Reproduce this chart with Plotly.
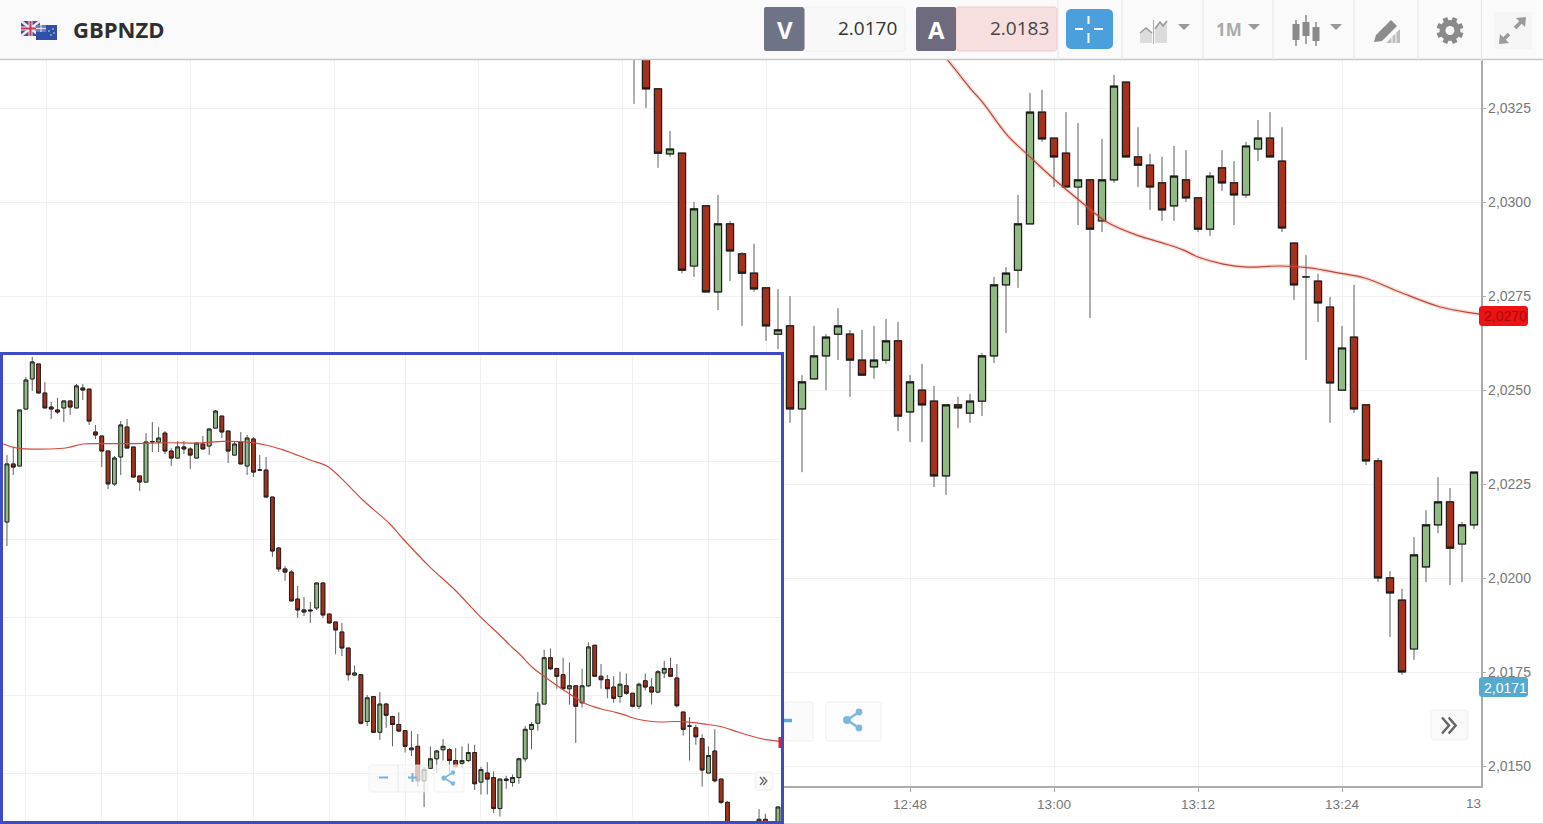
import math
import plotly.graph_objects as go

W, H = 1543, 824

minutes = list(range(693, 816))

opens = [
    2.04109, 2.04481, 2.04468, 2.04833, 2.05026, 2.05122, 2.04936, 2.04846, 2.04827, 2.0484,
    2.04885, 2.0484, 2.04968, 2.04961, 2.04686, 2.0466, 2.04564, 2.04353, 2.04526, 2.04718,
    2.0459, 2.04404, 2.04365, 2.04622, 2.04622, 2.04679, 2.04564, 2.04519, 2.0459, 2.04577,
    2.04519, 2.04609, 2.04596, 2.04711, 2.04788, 2.04692, 2.04538, 2.04622, 2.04468, 2.04641,
    2.04442, 2.04442, 2.04269, 2.03942, 2.03808, 2.03788, 2.03615, 2.03545, 2.03545, 2.03558,
    2.03718, 2.03519, 2.03468, 2.03404,
    2.03301, 2.03128, 2.0313, 2.0283, 2.0299, 2.02761, 2.02942, 2.02862, 2.02811, 2.02772,
    2.02649, 2.02671, 2.0245, 2.0253, 2.02591, 2.02649, 2.02649, 2.0258, 2.02562, 2.0258,
    2.02631, 2.02442, 2.025, 2.02471, 2.02272, 2.02461, 2.02439, 2.02471, 2.02591, 2.0278,
    2.02819, 2.02942, 2.03239, 2.0317, 2.0313, 2.0304, 2.03059, 2.0295, 2.03059, 2.03319,
    2.0312, 2.03098, 2.03051, 2.0299, 2.03059, 2.03011, 2.02928, 2.03091, 2.03051, 2.03019,
    2.03141, 2.0317, 2.03109, 2.02891, 2.02801, 2.0279, 2.02721, 2.025, 2.02641, 2.02461,
    2.02312, 2.02001, 2.01942, 2.01812, 2.0203, 2.02142, 2.02203, 2.02091, 2.02142,
]
highs = [
    2.04538, 2.0459, 2.04827, 2.05038, 2.05167, 2.05122, 2.05006, 2.04878, 2.04904, 2.04885,
    2.04885, 2.04994, 2.04994, 2.04961, 2.04731, 2.0466, 2.04564, 2.04532, 2.04756, 2.04769,
    2.0459, 2.04404, 2.04679, 2.0475, 2.04718, 2.04692, 2.04583, 2.04628, 2.04628, 2.0459,
    2.04615, 2.0466, 2.04711, 2.04827, 2.04788, 2.04692, 2.04622, 2.04686, 2.04667, 2.04654,
    2.04538, 2.04526, 2.04269, 2.03948, 2.03827, 2.03801, 2.03699, 2.03628, 2.03596, 2.03718,
    2.03718, 2.03519, 2.03468, 2.03462,
    2.03301, 2.03189, 2.0313, 2.03, 2.0299, 2.03019, 2.0295, 2.02867, 2.02889, 2.02772,
    2.02769, 2.0275, 2.0254, 2.02671, 2.02649, 2.02718, 2.0266, 2.0266, 2.02671, 2.02689,
    2.02681, 2.0254, 2.0257, 2.02511, 2.02461, 2.02482, 2.0249, 2.02599, 2.02801, 2.02827,
    2.03019, 2.0329, 2.03298, 2.0317, 2.03239, 2.0321, 2.03059, 2.03168, 2.03338, 2.03319,
    2.03199, 2.03128, 2.0312, 2.03149, 2.03138, 2.03011, 2.0308, 2.03138, 2.03109, 2.0316,
    2.03218, 2.03239, 2.03199, 2.02891, 2.02859, 2.02809, 2.02748, 2.02671, 2.0278, 2.02461,
    2.0232, 2.02019, 2.01972, 2.0211, 2.02181, 2.02269, 2.0224, 2.0215, 2.02282,
]
lows = [
    2.03955, 2.0441, 2.04468, 2.04833, 2.04949, 2.04936, 2.0484, 2.04769, 2.04801, 2.0475,
    2.04795, 2.0484, 2.04891, 2.04731, 2.04641, 2.04461, 2.0432, 2.0434, 2.0441, 2.04583,
    2.04397, 2.04308, 2.04365, 2.04558, 2.04558, 2.04545, 2.04468, 2.04519, 2.04545, 2.04449,
    2.04519, 2.04577, 2.04538, 2.04711, 2.04647, 2.04487, 2.04538, 2.04481, 2.0441, 2.04397,
    2.04436, 2.04269, 2.03885, 2.03788, 2.03731, 2.03603, 2.03494, 2.03506, 2.03462, 2.03545,
    2.03494, 2.03455, 2.03261, 2.0325,
    2.03091, 2.0312, 2.02811, 2.02801, 2.02761, 2.02713, 2.0279, 2.02671, 2.02761, 2.02631,
    2.02609, 2.02413, 2.02282, 2.0253, 2.025, 2.0258, 2.02482, 2.0254, 2.0253, 2.0257,
    2.02391, 2.02362, 2.02362, 2.02243, 2.02221, 2.02399, 2.02413, 2.02431, 2.02572, 2.02652,
    2.02772, 2.02942, 2.0316, 2.0304, 2.0304, 2.02939, 2.02692, 2.0292, 2.03051, 2.0312,
    2.0304, 2.02979, 2.0295, 2.0295, 2.03, 2.0292, 2.0291, 2.03029, 2.02939, 2.03011,
    2.03109, 2.0312, 2.0292, 2.0274, 2.0258, 2.02681, 2.02413, 2.025, 2.02439, 2.02301,
    2.0199, 2.01844, 2.01743, 2.01783, 2.0199, 2.0212, 2.01982, 2.0199, 2.02131,
]
closes = [
    2.04481, 2.04461, 2.04827, 2.05019, 2.05135, 2.04936, 2.0484, 2.04833, 2.04814, 2.04885,
    2.04846, 2.04981, 2.04955, 2.04756, 2.04667, 2.04564, 2.04353, 2.04519, 2.04731, 2.04583,
    2.04397, 2.04365, 2.04622, 2.04625, 2.04647, 2.04564, 2.04519, 2.0459, 2.04577, 2.04538,
    2.04615, 2.04577, 2.04705, 2.0482, 2.04686, 2.04564, 2.04609, 2.04481, 2.04647, 2.04429,
    2.04442, 2.04269, 2.03923, 2.03808, 2.03788, 2.03603, 2.03545, 2.03532, 2.0354, 2.03718,
    2.03513, 2.03462, 2.03417, 2.03301,
    2.0313, 2.03141, 2.02819, 2.02982, 2.02761, 2.02942, 2.0287, 2.02811, 2.02769, 2.02671,
    2.0266, 2.0245, 2.02522, 2.02591, 2.02641, 2.02671, 2.0258, 2.0254, 2.0258, 2.02631,
    2.02431, 2.02522, 2.02461, 2.02272, 2.02461, 2.02453, 2.02471, 2.02591, 2.0278, 2.02811,
    2.02942, 2.03239, 2.03168, 2.0312, 2.0304, 2.03059, 2.02928, 2.03059, 2.03308, 2.0312,
    2.03098, 2.0304, 2.02979, 2.03069, 2.03011, 2.02928, 2.03069, 2.03051, 2.03019, 2.03149,
    2.0317, 2.0312, 2.02931, 2.0278, 2.02801, 2.02732, 2.02519, 2.02612, 2.0245, 2.02312,
    2.02001, 2.01961, 2.01751, 2.02062, 2.02142, 2.02203, 2.0208, 2.02142, 2.02282,
]

ma_minutes = [
    692.4, 694.6, 699.8, 702.5, 705.0, 707.7, 712.9, 718.3, 723.5, 727.2, 731.5, 734.6,
    736.7, 741.0, 743.6, 745.7, 749.3, 753.6, 755.7, 759.9, 763.9, 767.8, 771.33, 773.0, 774.1,
    776.1, 778.0, 779.9, 782.4, 784.4, 786.9, 789.1, 790.75, 792.0, 794.1, 796.1, 798.8,
    801.3, 803.8, 805.9, 808.8, 812.2, 815.5,
]
ma_values = [
    2.04609, 2.04583, 2.04577, 2.04585, 2.04609, 2.04611, 2.04611, 2.04617, 2.04615, 2.04626,
    2.0462, 2.04596, 2.04571, 2.04506, 2.04468, 2.04397, 2.0425, 2.04096, 2.04, 2.03821,
    2.03673, 2.03506, 2.0337, 2.03303, 2.03263, 2.03178, 2.0312, 2.03064, 2.02997, 2.02947, 2.02912,
    2.02891, 2.02873, 2.02854, 2.02835, 2.02827, 2.0283, 2.02825, 2.02811, 2.02798, 2.02761,
    2.02721, 2.02702,
]

x_tick_minutes = [696, 708, 720, 732, 744, 756, 768, 780, 792, 804]
x_tick_labels = ["", "", "", "", "", "", "12:48", "13:00", "13:12", "13:24"]
y_tick_values = [2.0150, 2.0175, 2.0200, 2.0225, 2.0250, 2.0275, 2.0300, 2.0325]
y_tick_labels = ["2,0150", "2,0175", "2,0200", "2,0225", "2,0250", "2,0275", "2,0300", "2,0325"]
inset_y_ticks = [2.025, 2.03, 2.035, 2.04, 2.045, 2.05]

symbol = "GBPNZD"
bid_label, bid_value = "V", "2.0170"
ask_label, ask_value = "A", "2.0183"
period = "1M"
ma_last, last_price = "2,0270", "2,0171"

RED, GREEN = "#a5311a", "#8fbb82"
EDGE, WICK = "#1c1c1c", "#5f5f5f"
GRID = "#f1f1f1"

body_hi = [max(o, c) for o, c in zip(opens, closes)]
body_lo = [min(o, c) for o, c in zip(opens, closes)]


def px(x):
    return x / W


def py(y):
    return 1 - y / H


def add_candles(fig, xa, ya, edge_w):
    common = dict(x=minutes, xaxis=xa, yaxis=ya, hoverinfo="skip", showlegend=False, whiskerwidth=0)
    fig.add_trace(go.Candlestick(
        open=opens, high=highs, low=lows, close=closes,
        increasing=dict(line=dict(color=WICK, width=1), fillcolor=GREEN),
        decreasing=dict(line=dict(color=WICK, width=1), fillcolor=RED), **common))
    fig.add_trace(go.Candlestick(
        open=opens, high=body_hi, low=body_lo, close=closes,
        increasing=dict(line=dict(color=EDGE, width=edge_w), fillcolor=GREEN),
        decreasing=dict(line=dict(color=EDGE, width=edge_w), fillcolor=RED), **common))


fig = go.Figure()
add_candles(fig, "x", "y", 1.2)
fig.add_trace(go.Scatter(x=ma_minutes, y=ma_values, mode="lines", xaxis="x", yaxis="y",
                         line=dict(color="rgba(225,90,70,0.22)", width=4, shape="spline"),
                         hoverinfo="skip", showlegend=False))
fig.add_trace(go.Scatter(x=ma_minutes, y=ma_values, mode="lines", xaxis="x", yaxis="y",
                         line=dict(color="#b9483a", width=1.2, shape="spline"),
                         hoverinfo="skip", showlegend=False))
add_candles(fig, "x2", "y2", 0.9)
fig.add_trace(go.Scatter(x=ma_minutes, y=ma_values, mode="lines", xaxis="x2", yaxis="y2",
                         line=dict(color="#d8473c", width=1.2, shape="spline"),
                         hoverinfo="skip", showlegend=False))

shapes = []
annotations = []


def rect(x0, y0, x1, y1, fill, line=None, lw=1):
    shapes.append(dict(type="rect", xref="paper", yref="paper", x0=px(x0), x1=px(x1), y0=py(y0), y1=py(y1),
                       fillcolor=fill, line=dict(color=line or "rgba(0,0,0,0)", width=lw if line else 0),
                       layer="above"))


def path(points, fill=None, line=None, lw=1, close=True):
    d = "M" + " L".join(f"{px(a):.5f},{py(b):.5f}" for a, b in points) + (" Z" if close else "")
    shapes.append(dict(type="path", xref="paper", yref="paper", path=d,
                       fillcolor=fill or "rgba(0,0,0,0)",
                       line=dict(color=line or "rgba(0,0,0,0)", width=lw if line else 0), layer="above"))


def rrect(x0, y0, x1, y1, r, fill, line=None, lw=1):
    pts = []
    for cx, cy, a0 in ((x1 - r, y0 + r, -90), (x1 - r, y1 - r, 0), (x0 + r, y1 - r, 90), (x0 + r, y0 + r, 180)):
        for k in range(5):
            a = math.radians(a0 + k * 22.5)
            pts.append((cx + r * math.cos(a), cy + r * math.sin(a)))
    path(pts, fill, line, lw)


def seg(x0, y0, x1, y1, color, lw=1):
    shapes.append(dict(type="line", xref="paper", yref="paper", x0=px(x0), x1=px(x1), y0=py(y0), y1=py(y1),
                       line=dict(color=color, width=lw), layer="above"))


def circle(cx, cy, r, fill):
    shapes.append(dict(type="circle", xref="paper", yref="paper", x0=px(cx - r), x1=px(cx + r),
                       y0=py(cy - r), y1=py(cy + r), fillcolor=fill, line=dict(width=0), layer="above"))


def label(x, y, text, size, color, anchor="center", family="Open Sans", bold=False):
    t = f"<b>{text}</b>" if bold else text
    annotations.append(dict(xref="paper", yref="paper", x=px(x), y=py(y), text=t, showarrow=False,
                            xanchor=anchor, yanchor="middle", font=dict(size=size, color=color, family=family),
                            borderpad=0, borderwidth=0))


def share(cx, cy, dx, dy, r, color, lw):
    seg(cx, cy, cx + dx, cy - dy, color, lw)
    seg(cx, cy, cx + dx, cy + dy, color, lw)
    circle(cx, cy, r, color)
    circle(cx + dx, cy - dy, r * 0.85, color)
    circle(cx + dx, cy + dy, r * 0.85, color)


def chevrons(x, y, w, h, color, lw):
    for off in (0, w * 0.95):
        path([(x + off, y - h), (x + off + w, y), (x + off, y + h)], None, color, lw, close=False)


# Header
rect(0, 0, W, 59, "#fafafa")
seg(0, 59.5, W, 59.5, "#c9c9c9", 1.5)
for sx in (1058, 1122, 1203, 1273, 1354, 1418):
    seg(sx, 0, sx, 61, "#e6e6e6", 1)
seg(1481.5, 0, 1481.5, 61, "#e6e6e6", 1)

# Flags
rect(21, 21, 40, 36, "#4a4f96")
seg(21, 21, 40, 36, "#f2e6ea", 2.5)
seg(40, 21, 21, 36, "#f2e6ea", 2.5)
seg(30.5, 21, 30.5, 36, "#f2e6ea", 4)
seg(21, 28.5, 40, 28.5, "#f2e6ea", 4)
seg(30.5, 21, 30.5, 36, "#c8385a", 2)
seg(21, 28.5, 40, 28.5, "#c8385a", 2)
rect(36, 25, 57, 40, "#2f4fa8")
rect(36, 25, 46, 32, "#6c7bc0")
seg(36, 28.5, 46, 28.5, "#e8dce6", 1.2)
seg(41, 25, 41, 32, "#e8dce6", 1.2)
for sx, sy in ((49, 31), (53, 29), (51, 35), (54, 33)):
    circle(sx, sy, 0.8, "#dfe4f5")
label(73, 29, symbol, 22, "#2f2f2f", "left", bold=True)

# Bid / ask
rrect(804, 7, 905, 51, 3, "#f8f8f8", "#eeeeee")
rrect(764, 7, 804, 51, 2, "#6f7386")
seg(804, 9, 804, 49, "#6f7386", 1)
label(785, 29, bid_label, 24, "#ffffff", bold=True)
label(897, 28, bid_value, 19, "#333333", "right")
rrect(956, 7, 1057, 51, 3, "#f7dfdf", "#efcaca")
rrect(916, 7, 956, 51, 2, "#6e6b7e")
label(936, 29, ask_label, 24, "#ffffff", bold=True)
label(1049, 28, ask_value, 19, "#444444", "right")

# Crosshair button
rrect(1066, 9, 1113, 49, 5, "#4a9fdc")
for a, b, c, d in ((1088.5, 16, 1088.5, 24), (1088.5, 33, 1088.5, 43), (1075, 29, 1083, 29), (1094, 29, 1103, 29)):
    seg(a, b, c, d, "#ffffff", 2)

# Chart type icon
path([(1140, 43), (1140, 33), (1146, 28), (1152, 33), (1152, 43)], "#dcdcdc")
path([(1155, 43), (1155, 26), (1167, 22), (1167, 43)], "#dcdcdc")
path([(1140, 33), (1146, 28), (1152, 33)], None, "#999999", 1.5, close=False)
path([(1155, 29), (1160, 22), (1163, 26), (1167, 21)], None, "#999999", 1.5, close=False)
seg(1153.5, 20, 1153.5, 44, "#aaaaaa", 1)
for tx in (1184, 1254, 1336):
    path([(tx - 6, 24), (tx + 6, 24), (tx, 30)], "#999999")
label(1229, 30, period, 17, "#aaaaaa", bold=True)

# Candle icon
for cx, t0, t1, w0, w1 in ((1296, 24, 40, 20, 46), (1306, 22, 36, 15, 44), (1316, 27, 41, 22, 46)):
    seg(cx, w0, cx, w1, "#8a8a8a", 1.5)
    rect(cx - 3.5, t0, cx + 3.5, t1, "#8a8a8a")

# Drawing icon
path([(1374, 42), (1376, 35), (1391, 20), (1397, 26), (1382, 41)], "#8c8c8c")
path([(1386, 43), (1400, 29), (1400, 43)], "#bcbcbc")
seg(1392, 43, 1392, 37, "#fafafa", 1)
seg(1396, 43, 1396, 33, "#fafafa", 1)

# Gear icon
for k in range(8):
    a = math.radians(22.5 + k * 45)
    seg(1450 + 8 * math.cos(a), 30.5 + 8 * math.sin(a), 1450 + 13.5 * math.cos(a), 30.5 + 13.5 * math.sin(a),
        "#8a8a8a", 5)
circle(1450, 30.5, 10.5, "#8a8a8a")
circle(1450, 30.5, 4.5, "#fafafa")

# Expand icon
rect(1494, 12, 1532, 49, "#f5f5f5")
seg(1502, 41, 1509, 34, "#9a9a9a", 3.5)
seg(1515, 28, 1522, 21, "#9a9a9a", 3.5)
path([(1526, 17), (1525, 27), (1516, 18)], "#9a9a9a")
path([(1499, 44), (1500, 34), (1509, 43)], "#9a9a9a")

# Controls in the main chart
rrect(784, 702, 813, 741, 2, "#fbfbfb", "#eeeeee")
seg(784, 720.5, 792, 720.5, "#5ba8dc", 3.5)
rrect(826, 702, 881, 741, 2, "#fdfdfd", "#eeeeee")
share(847, 720, 12, 8, 4, "#7db8dc", 2.5)
rrect(1431, 710, 1468, 740, 3, "#fafafa", "#eeeeee")
chevrons(1442, 725.5, 7, 8, "#666666", 2.5)

# Price labels
rrect(1479, 306, 1528, 326, 3, "#ee1212")
label(1505, 316, ma_last, 14, "#a30f0f", family="Liberation Sans")
rrect(1479, 677, 1528, 697, 3, "#56a9cf")
label(1505, 688, last_price, 14, "#ffffff", family="Liberation Sans")
label(1481, 803, "13", 13.5, "#777777", "right", family="Liberation Sans")
seg(0, 823.5, W, 823.5, "#d8d8d8", 1)

# Controls in the inset
rrect(369, 765, 428, 792, 2, "rgba(250,250,250,0.72)", "rgba(235,235,235,0.7)")
seg(398, 765, 398, 792, "#e6e6e6", 1)
seg(379, 777.5, 388, 777.5, "#74b2de", 2)
seg(408, 777.5, 417, 777.5, "#74b2de", 2)
seg(412.5, 773, 412.5, 782, "#74b2de", 2)
rrect(434, 765, 464, 792, 2, "rgba(252,252,252,0.72)", "rgba(235,235,235,0.7)")
share(444, 778, 9, 5.5, 2.6, "#7db8dc", 1.5)
rrect(755, 772, 773, 790, 2, "#fafafa", "#eeeeee")
chevrons(760, 781, 3.5, 4, "#666666", 1.3)

rect(778.5, 737, 781, 748, "#d81e3a")
rect(1.5, 353.5, 782.5, 822.5, "rgba(0,0,0,0)", "#3f4bc4", 3)

axis_color = "#ababab"
main_right, main_top, main_bottom = 1480.5, 60, 785.5
fig.update_layout(
    width=W, height=H, margin=dict(l=0, r=0, t=0, b=0),
    paper_bgcolor="#ffffff", plot_bgcolor="#ffffff", showlegend=False,
    boxmode="overlay", boxgap=0.15, dragmode=False,
    font=dict(family="Liberation Sans", color="#777777"),
    shapes=shapes, annotations=annotations,
    xaxis=dict(domain=[0, main_right / W], range=[780 - 1054 / 12, 780 + (main_right - 1054) / 12], tickmode="array",
               tickvals=x_tick_minutes, ticktext=x_tick_labels, showgrid=True, gridcolor=GRID, gridwidth=1,
               zeroline=False, showline=True, linecolor=axis_color, linewidth=1.6, ticks="outside", ticklen=5,
               tickcolor=axis_color, tickfont=dict(size=13.5, color="#777777"), anchor="y",
               rangeslider=dict(visible=False), fixedrange=True),
    yaxis=dict(domain=[py(main_bottom), py(main_top)],
               range=[2.0325 - (main_bottom - 108) * 0.0025 / 94.05, 2.0325 + (108 - main_top) * 0.0025 / 94.05],
               side="right", tickmode="array", tickvals=y_tick_values, ticktext=y_tick_labels,
               showgrid=True, gridcolor=GRID, gridwidth=1, zeroline=False, showline=True, linecolor=axis_color,
               linewidth=1.6, ticks="outside", ticklen=4, tickcolor=axis_color, ticklabelstandoff=-1,
               tickfont=dict(size=14, color="#777777"), anchor="x", fixedrange=True),
    xaxis2=dict(domain=[3 / W, 781 / W], range=[815 + (3 - 778) / 6.32, 815 + (781 - 778) / 6.32],
                tickmode="array", tickvals=x_tick_minutes, showticklabels=False, showgrid=True,
                gridcolor=GRID, zeroline=False, showline=False, ticks="", anchor="y2",
                rangeslider=dict(visible=False), fixedrange=True),
    yaxis2=dict(domain=[py(821), py(355)], range=[2.03 - 126 / 15600, 2.03 + 340 / 15600], tickmode="array",
                tickvals=inset_y_ticks, showticklabels=False, showgrid=True, gridcolor=GRID, zeroline=False,
                showline=False, ticks="", anchor="x2", fixedrange=True),
)

fig.write_html("out.html", config=dict(displayModeBar=False, responsive=False),
               post_script="document.body.style.margin='0';document.body.style.overflow='hidden';")
